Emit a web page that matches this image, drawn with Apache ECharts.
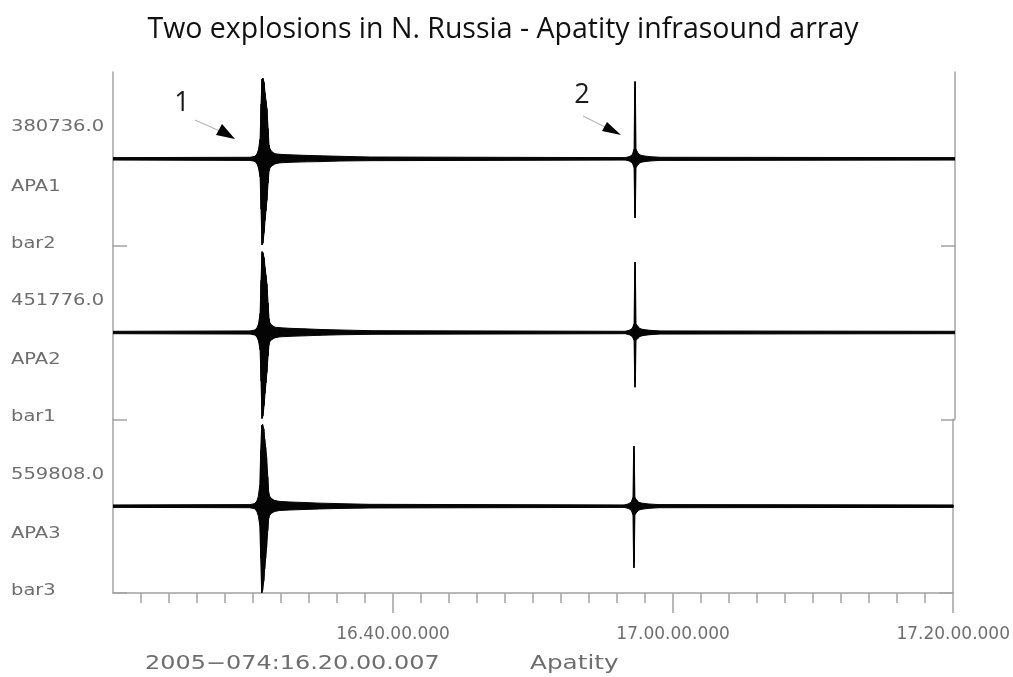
<!DOCTYPE html>
<html>
<head>
<meta charset="utf-8">
<title>Two explosions in N. Russia - Apatity infrasound array</title>
<script src="https://cdn.jsdelivr.net/npm/echarts@6/dist/echarts.min.js"></script>
<style>
    html, body { margin: 0; padding: 0; background: #fff; }
    #divChart { width: 1013px; height: 677px; }
</style>
</head>
<body>
<div id="divChart"></div>
<script>
// envelope samples, seconds after 16.20.00.007 (same instants for the 3 channels)
var sampleTimes = [0, 586, 607, 616, 622, 629, 633, 637, 641, 646, 650, 654, 658, 663, 667, 671, 680, 693, 714, 757, 821, 885, 971, 1099,
    2190, 2207, 2220, 2228, 2230.5, 2232, 2233.5, 2236, 2245, 2253, 2266, 2296, 2339, 3600];

// amplitude in % of the panel half height, upper / lower envelope
var apa1Upper = [1.4, 1.8, 2.9, 5.8, 10.4, 23, 63, 92, 93, 88, 76, 67, 58, 35, 16, 11.5, 8, 5.8, 5.2, 4.6, 4, 3.5, 2.9, 2.1,
    1.4, 2.5, 4.5, 11, 80, 89, 80, 11, 6.5, 4.5, 3.5, 2.5, 1.8, 1.4];
var apa1Lower = [-1.4, -1.8, -2.9, -5.8, -10.4, -21, -58, -99, -97, -85, -71, -60, -48, -28, -14, -10.4, -8, -5.8, -4.6, -4, -3.5, -3.2, -2.5, -2.1,
    -1.4, -2.5, -4.5, -10, -62, -68, -62, -10, -6.5, -4.5, -3.5, -2.5, -1.8, -1.4];
var apa2Upper = [1.4, 1.8, 2.9, 5.5, 9.5, 22, 60, 93, 92, 86, 75, 66, 56, 34, 16, 11, 8, 6, 5.5, 4.8, 4.2, 3.5, 2.9, 2.1,
    1.4, 2.5, 4.5, 10, 72, 81, 72, 10, 6.5, 4.5, 3.5, 2.5, 1.8, 1.4];
var apa2Lower = [-1.4, -1.8, -2.9, -5.5, -9.5, -20, -56, -99, -96, -84, -70, -58, -46, -27, -14, -10, -8, -6, -5, -4.4, -3.8, -3.2, -2.6, -2.1,
    -1.4, -2.5, -4.5, -9, -57, -63, -57, -9, -6.5, -4.5, -3.5, -2.5, -1.8, -1.4];
var apa3Upper = [1.4, 1.8, 2.9, 5.8, 10, 24, 64, 93, 94, 89, 77, 68, 57, 34, 16, 11.5, 8.5, 6.5, 5.5, 4.8, 4.2, 3.5, 2.9, 2.1,
    1.4, 2.5, 4.5, 10, 62, 69, 62, 10, 6.5, 4.5, 3.5, 2.5, 1.8, 1.4];
var apa3Lower = [-1.4, -1.8, -2.9, -5.8, -10, -22, -60, -100, -97, -86, -72, -60, -48, -28, -14, -10.4, -8, -6, -5, -4.4, -3.8, -3.2, -2.6, -2.1,
    -1.4, -2.5, -4.5, -10, -64, -71, -64, -10, -6.5, -4.5, -3.5, -2.5, -1.8, -1.4];

var scaleLabels = ['380736.0', '451776.0', '559808.0'];
var channelLabels = ['APA1', 'APA2', 'APA3'];
var barLabels = ['bar2', 'bar1', 'bar3'];

var majorTicks = [1200, 2400, 3600];
var majorTickLabels = ['16.40.00.000', '17.00.00.000', '17.20.00.000'];
var minorTicks = [120, 240, 360, 480, 600, 720, 840, 960, 1080, 1200, 1320, 1440, 1560, 1680, 1800, 1920, 2040, 2160,
    2280, 2400, 2520, 2640, 2760, 2880, 3000, 3120, 3240, 3360, 3480, 3600];

var startLabel = '2005\u2212074:16.20.00.007';
var stationLabel = 'Apatity';
var titleText = 'Two explosions in N. Russia - Apatity infrasound array';

var uppers = [apa1Upper, apa2Upper, apa3Upper];
var lowers = [apa1Lower, apa2Lower, apa3Lower];

var axisGray = '#a3a3a3';
var labelGray = '#6e6e6e';
var traceColor = '#050505';
var plotTop = 72, plotBottom = 593, plotLeft = 113, plotRight = 58;
var panelHeight = (plotBottom - plotTop) / 3;

var myChart = echarts.init(document.getElementById('divChart'));

var grids = [], xAxes = [], yAxes = [], series = [], graphics = [];

// one filled quad between two consecutive envelope samples
function renderTrace(params, api) {
    var data = series[params.seriesIndex].data;
    var j = params.dataIndex;
    if (j >= data.length - 1) return null;
    var a = data[j], b = data[j + 1];
    var pts = [
        api.coord([a[0], a[1]]),
        api.coord([b[0], b[1]]),
        api.coord([b[0], b[2]]),
        api.coord([a[0], a[2]])
    ];
    return {
        type: 'polygon',
        shape: { points: pts },
        style: { fill: traceColor, stroke: traceColor, lineWidth: 1 }
    };
}

for (var i = 0; i < 3; i++) {
    var panelTop = plotTop + i * panelHeight;
    var panelMid = panelTop + panelHeight / 2;
    grids.push({ left: plotLeft, right: plotRight, top: panelTop, height: panelHeight });

    if (i < 2) {
        xAxes.push({ gridIndex: i, type: 'value', min: 0, max: 3600, show: false, splitLine: { show: false } });
    }

    ['left', 'right'].forEach(function (pos) {
        yAxes.push({
            gridIndex: i,
            type: 'value',
            position: pos,
            min: -100,
            max: 100,
            axisLine: { show: true, onZero: false, lineStyle: { color: axisGray, width: 1.5 } },
            axisTick: { show: true, inside: true, length: 14, customValues: [-100], lineStyle: { color: axisGray, width: 1.5 } },
            axisLabel: { show: false },
            splitLine: { show: false }
        });
    });

    var up = uppers[i], low = lowers[i];
    series.push({
        name: channelLabels[i],
        type: 'custom',
        xAxisIndex: i < 2 ? i : 2,
        yAxisIndex: i * 2,
        silent: true,
        clip: true,
        renderItem: renderTrace,
        encode: { x: 0, y: [1, 2] },
        data: sampleTimes.map(function (t, j) { return [t, up[j], low[j]]; })
    });

    var sideTexts = [[scaleLabels[i], panelMid - 31.5], [channelLabels[i], panelMid + 28], [barLabels[i], panelMid + 85]];
    sideTexts.forEach(function (st) {
        graphics.push({
            type: 'text',
            x: 11,
            y: st[1],
            scaleX: 1.3,
            silent: true,
            style: {
                text: st[0],
                fill: labelGray,
                font: '15px "DejaVu Sans"',
                textAlign: 'left',
                textVerticalAlign: 'middle'
            }
        });
    });
}

// bottom axis: minor ticks on one axis, major ticks and labels on a second
xAxes.push({
    gridIndex: 2, type: 'value', min: 0, max: 3600, position: 'bottom',
    axisLine: { show: true, onZero: false, lineStyle: { color: axisGray, width: 1.5 } },
    axisTick: { show: true, length: 10, customValues: minorTicks, lineStyle: { color: axisGray, width: 1.5 } },
    axisLabel: { show: false },
    splitLine: { show: false }
});
xAxes.push({
    gridIndex: 2, type: 'value', min: 0, max: 3600, position: 'bottom',
    axisLine: { show: false, onZero: false },
    axisTick: { show: true, length: 20, customValues: majorTicks, lineStyle: { color: axisGray, width: 1.5 } },
    axisLabel: {
        show: true,
        customValues: majorTicks,
        margin: 33,
        color: labelGray,
        fontFamily: 'DejaVu Sans',
        fontSize: 17,
        formatter: function (v) { return majorTickLabels[majorTicks.indexOf(v)]; }
    },
    splitLine: { show: false }
});

// footer
graphics.push({
    type: 'text', x: 145, y: 664, scaleX: 1.26, silent: true,
    style: { text: startLabel, fill: labelGray, font: '19px "DejaVu Sans"', textVerticalAlign: 'middle' }
});
graphics.push({
    type: 'text', x: 530, y: 664, scaleX: 1.3, silent: true,
    style: { text: stationLabel, fill: labelGray, font: '19px "DejaVu Sans"', textVerticalAlign: 'middle' }
});

// event markers 1 and 2
graphics.push({ type: 'text', x: 182, y: 103, silent: true,
    style: { text: '1', fill: '#1a1a1a', font: '27px "Open Sans"', textAlign: 'center', textVerticalAlign: 'middle' } });
graphics.push({ type: 'line', silent: true, shape: { x1: 195, y1: 120, x2: 222, y2: 132 }, style: { stroke: '#b5b5b5', lineWidth: 1.2 } });
graphics.push({ type: 'polygon', silent: true, shape: { points: [[216, 135], [222, 124], [235, 139]] }, style: { fill: '#000' } });
graphics.push({ type: 'text', x: 582, y: 95, silent: true,
    style: { text: '2', fill: '#1a1a1a', font: '27px "Open Sans"', textAlign: 'center', textVerticalAlign: 'middle' } });
graphics.push({ type: 'line', silent: true, shape: { x1: 583, y1: 116, x2: 607, y2: 128 }, style: { stroke: '#b5b5b5', lineWidth: 1.2 } });
graphics.push({ type: 'polygon', silent: true, shape: { points: [[602, 131], [607, 122], [621, 135]] }, style: { fill: '#000' } });

var option = {
    backgroundColor: '#fff',
    animation: false,
    title: {
        text: titleText,
        left: 498,
        top: 10,
        textAlign: 'center',
        textStyle: { color: '#111', fontFamily: 'Open Sans', fontWeight: 'normal', fontSize: 28.5 }
    },
    grid: grids,
    xAxis: xAxes,
    yAxis: yAxes,
    series: series,
    graphic: graphics
};
myChart.setOption(option);
</script>
</body>
</html>
